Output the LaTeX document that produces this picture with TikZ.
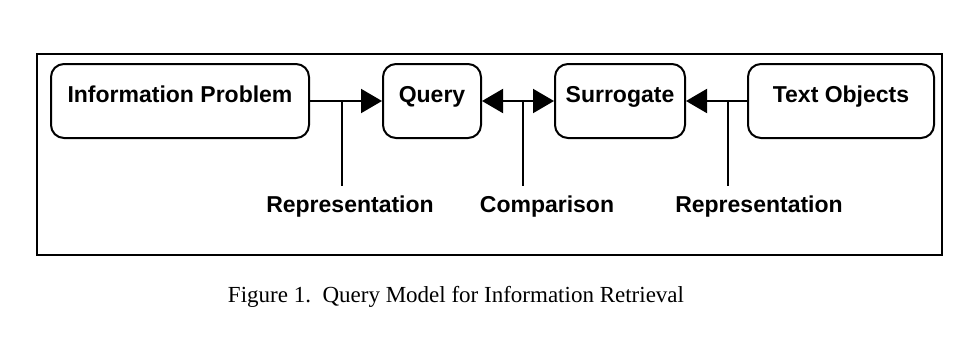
\documentclass[tikz,border=0pt]{standalone}
\usepackage{fontspec}
\setmainfont{Liberation Serif}
\setsansfont{Liberation Sans}
\usetikzlibrary{arrows.meta}
\tikzset{
  stage/.style={draw,line width=2pt,rounded corners=13pt,minimum height=74pt,
    inner sep=0pt,text height=13pt,text depth=11pt,font=\sffamily\bfseries\fontsize{23}{27}\selectfont},
  lbl/.style={anchor=base,inner sep=0pt,font=\sffamily\bfseries\fontsize{23}{27}\selectfont},
  tip/.tip={Triangle[length=21pt,width=24pt]},
  flow/.style={line width=2pt,-tip},
}
\begin{document}
\begin{tikzpicture}[x=1pt,y=-1pt]
  \useasboundingbox (0,0) rectangle (955,340);
  \draw[line width=2pt] (37,54) rectangle (942,255);
  \node[stage,minimum width=258pt] (prob) at (180,101) {Information Problem};
  \node[stage,minimum width=98pt] (query) at (432,101) {Query};
  \node[stage,minimum width=130pt] (surr) at (620,101) {Surrogate};
  \node[stage,minimum width=186pt] (texts) at (841,101) {Text Objects};
  \draw[flow] (prob) -- (query);
  \draw[flow,tip-tip] (query) -- (surr);
  \draw[flow] (texts) -- (surr);
  \foreach \n/\jx/\lx/\txt in {repA/342/350/Representation, comp/523/547/Comparison, repB/728/759/Representation} {
    \coordinate (j\n) at (\jx,101);
    \node[lbl] (\n) at (\lx,212) {\txt};
    \draw[line width=2pt,shorten >=9pt] (j\n) -- (j\n |- \n.north);
  }
  \node[anchor=base,font=\fontsize{23}{27}\selectfont] (caption) at (456,302) {Figure 1.\ \ Query Model for Information Retrieval};
\end{tikzpicture}
\end{document}
